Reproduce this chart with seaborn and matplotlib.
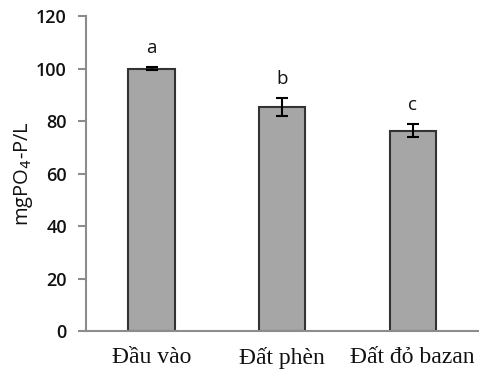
import pandas as pd
import matplotlib.pyplot as plt
import seaborn as sns

CATEGORIES = ["Đầu vào", "Đất phèn", "Đất đỏ bazan"]
VALUES = [100.0, 85.2, 76.3]
ERRORS = [0.5, 3.4, 2.5]
LETTERS = ["a", "b", "c"]
Y_TICKS = [0, 20, 40, 60, 80, 100, 120]

df = pd.DataFrame({"group": CATEGORIES, "value": VALUES, "err": ERRORS})

sns.set_style("white")
plt.rcParams["font.family"] = ["Open Sans", "DejaVu Sans"]

fig = plt.figure(figsize=(4.79, 3.74), dpi=100)
ax = fig.add_axes([0.18, 0.115, 0.818, 0.842])

sns.barplot(data=df, x="group", y="value", color="#a6a6a6", saturation=1,
            edgecolor="#333333", linewidth=1.5, width=0.355, errorbar=None, ax=ax)

centers = [p.get_x() + p.get_width() / 2 for p in ax.patches]
ax.errorbar(centers, df["value"], yerr=df["err"], fmt="none", ecolor="black",
            elinewidth=1.5, capsize=4.5, capthick=1.5)

for x, v, e, lab in zip(centers, df["value"], df["err"], LETTERS):
    ax.text(x, v + e + 4, lab, ha="center", va="bottom", fontsize=13.5, color="#111111")

ax.set_ylim(0, 120)
ax.set_yticks(Y_TICKS)
ax.set_xlim(-0.5, 2.5)
ax.set_xlabel("")
ax.set_ylabel("mgPO$_4$-P/L", fontsize=14.5, color="#111111", labelpad=1)

for side in ["top", "right"]:
    ax.spines[side].set_visible(False)
for side in ["left", "bottom"]:
    ax.spines[side].set_color("#8c8c8c")
    ax.spines[side].set_linewidth(1.5)

ax.tick_params(axis="y", left=True, length=6, width=1.5, color="#8c8c8c",
               labelsize=13, labelcolor="#111111", pad=8)
ax.tick_params(axis="x", bottom=False, pad=8)
for t in ax.get_yticklabels():
    t.set_fontweight("semibold")
for t in ax.get_xticklabels():
    t.set_fontfamily(["Liberation Serif", "DejaVu Serif"])
    t.set_fontsize(17)
    t.set_color("#111111")

fig.savefig("out.png", dpi=100)
plt.close(fig)
